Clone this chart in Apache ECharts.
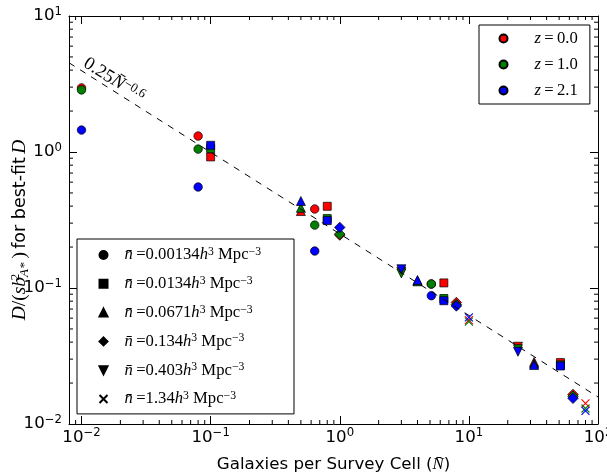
<!DOCTYPE html>
<html><head><meta charset="utf-8">
<script src="https://cdn.jsdelivr.net/npm/echarts@6/dist/echarts.min.js"></script>
<style>html,body{margin:0;padding:0;background:#fff}#c{width:607px;height:474px}</style>
</head><body><div id="c"></div>
<script>
// ---------- data ----------
const zLabels = ['0.0', '1.0', '2.1'];
const zColors = ['#ff0000', '#007f00', '#0000ff'];
const densityLabels = ['0.00134', '0.0134', '0.0671', '0.134', '0.403', '1.34'];

const nCircle = [0.01, 0.08, 0.64, 5.12];
const circleZ0 = [2.96, 1.31, 0.381, 0.107];
const circleZ1 = [2.86, 1.05, 0.290, 0.107];
const circleZ2 = [1.45, 0.553, 0.187, 0.0878];

const nSquare = [0.1, 0.8, 6.4, 51.2];
const squareZ0 = [0.92, 0.399, 0.109, 0.0283];
const squareZ1 = [1.06, 0.324, 0.0837, 0.0272];
const squareZ2 = [1.12, 0.313, 0.0806, 0.0267];

const nTriUp = [0.5, 4, 32];
const triUpZ0 = [0.368, 0.113, 0.0286];
const triUpZ1 = [0.389, 0.112, 0.0278];
const triUpZ2 = [0.436, 0.1145, 0.0272];

const nDiamond = [1, 8, 64];
const diamondZ0 = [0.245, 0.0782, 0.0165];
const diamondZ1 = [0.249, 0.0755, 0.0160];
const diamondZ2 = [0.279, 0.0738, 0.01545];

const nTriDown = [3, 24];
const triDownZ0 = [0.132, 0.037];
const triDownZ1 = [0.128, 0.0355];
const triDownZ2 = [0.1373, 0.034];

const nCross = [10, 80];
const crossZ0 = [0.058, 0.0142];
const crossZ1 = [0.0565, 0.0130];
const crossZ2 = [0.0609, 0.01248];

// fitted relation 0.25 N^-0.6, endpoints
const fitLine = [[0.008, 4.53], [100, 0.0158]];

const xMin = 0.008, xMax = 100, yMin = 0.01, yMax = 10;

// minor tick positions (k * 10^e)
const minorX = [], minorY = [];
for (let e = -3; e <= 1; e++) for (let k = 2; k <= 9; k++) {
  const v = +(k * Math.pow(10, e)).toPrecision(3);
  if (v > xMin && v < xMax) minorX.push([v, yMin]);
  if (v > yMin && v < yMax) minorY.push([xMin, v]);
}

// ---------- build ----------
const SER = 'Liberation Serif';
const FS = 16.67, SFS = 11.7;
const groups = [
  { n: nCircle, v: [circleZ0, circleZ1, circleZ2], symbol: 'circle', size: 8.5 },
  { n: nSquare, v: [squareZ0, squareZ1, squareZ2], symbol: 'rect', size: 8 },
  { n: nTriUp, v: [triUpZ0, triUpZ1, triUpZ2], symbol: 'triangle', size: 9 },
  { n: nDiamond, v: [diamondZ0, diamondZ1, diamondZ2], symbol: 'diamond', size: 10.5 },
  { n: nTriDown, v: [triDownZ0, triDownZ1, triDownZ2], symbol: 'path://M0,0L10,0L5,10Z', size: 9 },
  { n: nCross, v: [crossZ0, crossZ1, crossZ2], symbol: 'path://M0,0L10,10M10,0L0,10', size: 8, cross: true }
];

const series = [];
for (let z = 0; z < 3; z++) {
  groups.forEach(g => {
    series.push({
      type: 'scatter', xAxisIndex: 0, yAxisIndex: 0,
      symbol: g.symbol, symbolSize: g.size,
      data: g.n.map((x, i) => [x, g.v[z][i]]),
      itemStyle: g.cross
        ? { color: 'rgba(0,0,0,0)', borderColor: zColors[z], borderWidth: 1.1, opacity: 1 }
        : { color: zColors[z], borderColor: '#000', borderWidth: 0.7, opacity: 1 },
      z: 2, silent: true
    });
  });
}
series.push({
  type: 'line', data: fitLine, showSymbol: false, symbol: 'none', z: 3, silent: true,
  lineStyle: { color: '#000', width: 1, type: [6.5, 6.5] }
});
// minor ticks
series.push({
  type: 'custom', data: minorX, z: 5, silent: true, clip: false,
  renderItem: (p, api) => {
    const b = api.coord([api.value(0), yMin]);
    const t = api.coord([api.value(0), yMax]);
    return { type: 'group', children: [
      { type: 'line', shape: { x1: b[0], y1: b[1], x2: b[0], y2: b[1] - 4 }, style: { stroke: '#000', lineWidth: 1 } },
      { type: 'line', shape: { x1: t[0], y1: t[1], x2: t[0], y2: t[1] + 4 }, style: { stroke: '#000', lineWidth: 1 } }
    ]};
  }
});
series.push({
  type: 'custom', data: minorY, z: 5, silent: true, clip: false,
  renderItem: (p, api) => {
    const l = api.coord([xMin, api.value(1)]);
    const r = api.coord([xMax, api.value(1)]);
    return { type: 'group', children: [
      { type: 'line', shape: { x1: l[0], y1: l[1], x2: l[0] + 4, y2: l[1] }, style: { stroke: '#000', lineWidth: 1 } },
      { type: 'line', shape: { x1: r[0], y1: r[1], x2: r[0] - 4, y2: r[1] }, style: { stroke: '#000', lineWidth: 1 } }
    ]};
  }
});
// legend dummy series
const zNames = zLabels.map(l => 'z=' + l);
zNames.forEach((nm, i) => series.push({
  type: 'scatter', name: nm, data: [], symbol: 'circle', symbolSize: 8.5,
  itemStyle: { color: zColors[i], borderColor: '#000', borderWidth: 0.7, opacity: 1 }
}));
const dNames = densityLabels.map(l => 'n=' + l);
dNames.forEach((nm, i) => series.push({
  type: 'scatter', name: nm, data: [], symbol: groups[i].symbol, symbolSize: groups[i].size,
  itemStyle: groups[i].cross ? { color: 'rgba(0,0,0,0)', borderColor: '#000', borderWidth: 1, opacity: 1 }
                             : { color: '#000', borderColor: '#000', borderWidth: 0.7, opacity: 1 }
}));

const tickFmt = v => {
  const e = Math.round(Math.log10(v));
  if (Math.abs(Math.log10(v) - e) > 1e-6) return '';
  return '{b|10}{s|' + (e < 0 ? '\u2212' + (-e) : e) + '}';
};
const tickRich = {
  b: { fontFamily: 'DejaVu Sans', fontSize: FS, lineHeight: 21, color: '#000' },
  s: { fontFamily: 'DejaVu Sans', fontSize: SFS, lineHeight: 11, verticalAlign: 'top', color: '#000' }
};
const axisCommon = {
  type: 'log', logBase: 10,
  axisLine: { show: true, lineStyle: { color: '#000', width: 1 } },
  axisTick: { show: true, inside: true, length: 8, lineStyle: { color: '#000', width: 1 } },
  splitLine: { show: false }, minorTick: { show: false }
};
const mathRich = {
  i: { fontFamily: SER, fontStyle: 'italic', fontSize: FS, lineHeight: 18, color: '#000' },
  m: { fontFamily: SER, fontSize: FS, lineHeight: 18, color: '#000' },
  t: { fontFamily: 'DejaVu Sans', fontSize: FS, lineHeight: 18, color: '#000' },
  sup: { fontFamily: SER, fontSize: SFS, lineHeight: 10, verticalAlign: 'top', color: '#000' },
  g: { width: 22 }, g2: { width: 12 }
};
const yNameRich = {
  i: { fontFamily: SER, fontStyle: 'italic', fontSize: 19.5, lineHeight: 22, color: '#000' },
  m: { fontFamily: SER, fontSize: 19.5, lineHeight: 22, color: '#000' },
  t: { fontFamily: 'DejaVu Sans', fontSize: 17.5, lineHeight: 22, color: '#000' },
  supz: { fontFamily: SER, fontSize: 13, lineHeight: 11, verticalAlign: 'top', width: 0, color: '#000' },
  sub: { fontFamily: SER, fontStyle: 'italic', fontSize: 13, lineHeight: 11, verticalAlign: 'bottom', color: '#000' }
};
const labelRich = {
  i: { fontFamily: SER, fontStyle: 'italic', fontSize: 18.5, lineHeight: 20, color: '#000' },
  m: { fontFamily: SER, fontSize: 18.5, lineHeight: 20, color: '#000' },
  sup: { fontFamily: SER, fontSize: 13, lineHeight: 11, verticalAlign: 'top', color: '#000' }
};

const option = {
  animation: false,
  backgroundColor: '#fff',
  grid: { left: 69, right: 9, top: 16, bottom: 50, containLabel: false, outerBoundsMode: 'none' },
  xAxis: [
    Object.assign({}, axisCommon, {
      min: xMin, max: xMax, position: 'bottom',
      axisLabel: { margin: 3, formatter: tickFmt, rich: tickRich },
      name: '{t|Galaxies per Survey Cell (}{i|N\u0304}{t|)}', nameLocation: 'middle', nameGap: 32,
      nameTextStyle: { rich: mathRich }
    }),
    Object.assign({}, axisCommon, { min: xMin, max: xMax, position: 'top', axisLabel: { show: false } })
  ],
  yAxis: [
    Object.assign({}, axisCommon, {
      min: yMin, max: yMax, position: 'left',
      axisLabel: { margin: 7, formatter: tickFmt, rich: tickRich }
    }),
    Object.assign({}, axisCommon, { min: yMin, max: yMax, position: 'right', axisLabel: { show: false } })
  ],
  legend: [
    {
      orient: 'vertical', left: 479, top: 25, padding: [5, 12, 5, 19.5], itemGap: 9,
      itemWidth: 8, itemHeight: 8, borderColor: '#000', borderWidth: 1, backgroundColor: '#fff',
      data: zNames, selectedMode: false,
      formatter: nm => '{g| }{i|z}{m|\u2009=\u2009' + nm.slice(2) + '}',
      textStyle: { rich: mathRich }
    },
    {
      orient: 'vertical', left: 77, top: 239, padding: [7, 33, 6.4, 21.5], itemGap: 11.3,
      itemWidth: 8, itemHeight: 8, borderColor: '#000', borderWidth: 1, backgroundColor: '#fff',
      data: dNames, selectedMode: false,
      formatter: nm => '{g2| }{i|n\u0304}{m|\u2009=' + nm.slice(2) + '}{i|h}{sup|3}{m| Mpc}{sup|\u22123}',
      textStyle: { rich: mathRich }
    }
  ],
  graphic: [{
    type: 'text', x: 85, y: 62, rotation: -32 * Math.PI / 180, z: 10,
    style: {
      text: '{m|0.25}{i|N\u0304}{sup|\u22120.6}', rich: labelRich,
      align: 'left', verticalAlign: 'middle'
    }
  }, {
    type: 'text', x: 20, y: 230, rotation: Math.PI / 2, z: 10,
    style: {
      text: '{i|D}{m|/(}{i|sb}{supz|2}{sub|A*}{m|\u2009)} {t|for best-fit} {i|D}', rich: yNameRich,
      align: 'center', verticalAlign: 'middle'
    }
  }],
  series: series
};
const chart = echarts.init(document.getElementById('c'), null, { renderer: 'canvas' });
chart.setOption(option);
</script></body></html>
